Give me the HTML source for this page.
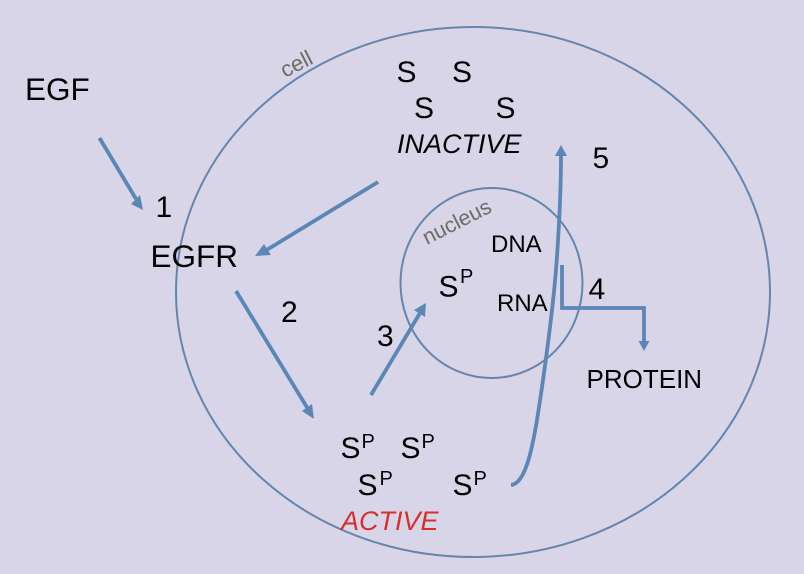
<!DOCTYPE html>
<html><head><meta charset="utf-8"><style>
html,body{margin:0;padding:0;background:#d9d5e8}
svg{display:block;filter:blur(0.35px)}
text{font-family:"Liberation Sans",sans-serif;fill:#000}
</style></head><body>
<svg width="804" height="574" viewBox="0 0 804 574" xmlns="http://www.w3.org/2000/svg">
<rect width="804" height="574" fill="#d9d5e8"/>
<ellipse cx="473" cy="292" rx="297" ry="265" fill="none" stroke="#6685ad" stroke-width="2"/>
<ellipse cx="491.500" cy="283" rx="91" ry="95" fill="none" stroke="#6685ad" stroke-width="2"/>
<g fill="none" stroke="#5b86b6" stroke-width="3.8">
<line x1="99.500" y1="138" x2="136" y2="199"/>
<line x1="378" y1="182" x2="265" y2="251"/>
<line x1="236" y1="291" x2="308" y2="409"/>
<line x1="371" y1="395" x2="420" y2="313"/>
<path d="M562 265V308H644V342"/>
<path d="M511 485C525 484 532 450 537 420C545 370 553 307 556 270C559 230 561 190 561 155"/>
</g>
<g fill="#5b86b6">
<polygon points="143,210 131,204 140,195"/>
<polygon points="255,256 264,244 271,255"/>
<polygon points="314,419 302,411 312,404"/>
<polygon points="426,303 425,317 414,310"/>
<polygon points="644,351 638.500,341 649.500,341"/>
<polygon points="561,145 567,156 555,156"/>
</g>
<g font-size="31.500">
<text x="25" y="100">EGF</text>
<text x="150.500" y="267">EGFR</text>
</g>
<g font-size="30">
<text x="155.500" y="217">1</text>
<text x="281" y="322">2</text>
<text x="377" y="346">3</text>
<text x="588.500" y="299">4</text>
<text x="592.500" y="168">5</text>
<text x="396.500" y="82">S</text>
<text x="452" y="82">S</text>
<text x="414" y="118">S</text>
<text x="495.500" y="118">S</text>
<text x="438.500" y="296.500">S</text>
<text x="340.500" y="458">S</text>
<text x="400.500" y="458">S</text>
<text x="357.500" y="495">S</text>
<text x="452.500" y="495">S</text>
</g>
<g font-size="20">
<text x="460" y="283">P</text>
<text x="361.500" y="448">P</text>
<text x="421.500" y="448">P</text>
<text x="379.500" y="485">P</text>
<text x="473.500" y="485">P</text>
</g>
<text x="397" y="153" font-size="27" font-style="italic">INACTIVE</text>
<text x="341" y="530" font-size="27" font-style="italic" style="fill:#d5302a">ACTIVE</text>
<text x="491" y="252" font-size="24">DNA</text>
<text x="497" y="311" font-size="24">RNA</text>
<text x="586.500" y="388" font-size="26">PROTEIN</text>
<text font-size="22" transform="translate(285 78) rotate(-27)" style="fill:#6f6b68">cell</text>
<text font-size="21.500" transform="translate(427 245) rotate(-27)" style="fill:#6f6b68">nucleus</text>
</svg>
</body></html>
